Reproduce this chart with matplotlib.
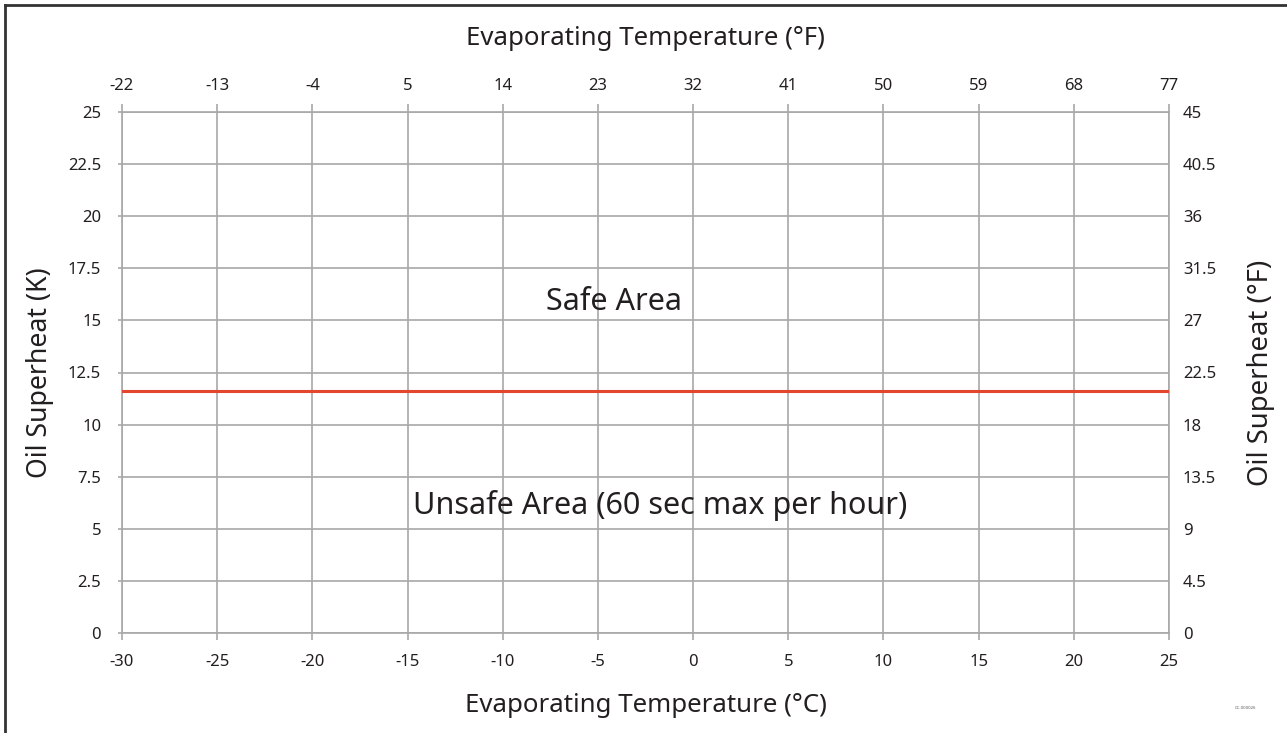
import matplotlib.pyplot as plt
from matplotlib.lines import Line2D

plt.rcParams['font.family'] = ['Noto Sans', 'DejaVu Sans']

# data
temp_c_ticks = [-30, -25, -20, -15, -10, -5, 0, 5, 10, 15, 20, 25]
temp_f_labels = ['-22', '-13', '-4', '5', '14', '23', '32', '41', '50', '59', '68', '77']
sh_k_ticks = [0, 2.5, 5, 7.5, 10, 12.5, 15, 17.5, 20, 22.5, 25]
sh_f_labels = ['0', '4.5', '9', '13.5', '18', '22.5', '27', '31.5', '36', '40.5', '45']
limit_k = 11.6
safe_text = 'Safe Area'
unsafe_text = 'Unsafe Area (60 sec max per hour)'

grid_c = '#a8a8a8'
txt_c = '#231f20'

fig = plt.figure(figsize=(12.87, 7.33), dpi=100)
ax = fig.add_axes([122 / 1287, 100 / 733, (1169 - 122) / 1287, (633 - 112) / 733])

ax.plot([temp_c_ticks[0], temp_c_ticks[-1]], [limit_k, limit_k], color='#e2462c', lw=2.2, zorder=3)

ax.set_xlim(temp_c_ticks[0], temp_c_ticks[-1])
ax.set_ylim(sh_k_ticks[0], sh_k_ticks[-1])
ax.set_xticks(temp_c_ticks)
ax.set_yticks(sh_k_ticks)
ax.set_xticklabels([str(t) for t in temp_c_ticks])
ax.set_yticklabels([f'{t:g}' for t in sh_k_ticks])
ax.grid(True, color=grid_c, lw=1.2)
for s in ax.spines.values():
    s.set_color(grid_c)
    s.set_linewidth(1.2)
ax.tick_params(axis='x', direction='out', length=5, width=1.2, color=grid_c,
               labelsize=12, labelcolor=txt_c, pad=10)
ax.tick_params(axis='y', direction='out', length=3, width=1.2, color=grid_c,
               labelsize=12, labelcolor=txt_c, pad=12)

ax.set_xlabel('Evaporating Temperature (°C)', fontsize=18.6, color=txt_c, labelpad=17)
ax.set_ylabel('Oil Superheat (K)', fontsize=19.2, color=txt_c, labelpad=10)

# top axis (°F)
top = ax.twiny()
top.set_xlim(ax.get_xlim())
top.set_xticks(temp_c_ticks)
top.set_xticklabels(temp_f_labels)
top.tick_params(axis='x', direction='out', length=6, width=1.2, color=grid_c,
                labelsize=12, labelcolor=txt_c, pad=7)
top.set_xlabel('Evaporating Temperature (°F)', fontsize=18.6, color=txt_c, labelpad=24)
for s in top.spines.values():
    s.set_visible(False)

# right axis (°F)
right = ax.twinx()
right.set_ylim(ax.get_ylim())
right.set_yticks(sh_k_ticks)
right.set_yticklabels(sh_f_labels)
right.tick_params(axis='y', length=0, labelsize=12, labelcolor=txt_c, pad=10)
right.set_ylabel('Oil Superheat (°F)', fontsize=19.8, color=txt_c, labelpad=22)
for s in right.spines.values():
    s.set_visible(False)

ax.text(-4.15, 15.9, safe_text, fontsize=22, color=txt_c, ha='center', va='center')
ax.text(-1.75, 6.1, unsafe_text, fontsize=22, color=txt_c, ha='center', va='center')

# border on left and top, small code at bottom right
fig.add_artist(Line2D([4.5 / 1287, 4.5 / 1287], [0, 1 - 4.5 / 733], color='#333333', lw=2))
fig.add_artist(Line2D([4.5 / 1287, 1], [1 - 4.5 / 733, 1 - 4.5 / 733], color='#333333', lw=2))
fig.text(1245 / 1287, 1 - 708 / 733, 'CC-000026', fontsize=3, color='#555555', ha='center', va='center')

fig.savefig('out.png', dpi=100)
